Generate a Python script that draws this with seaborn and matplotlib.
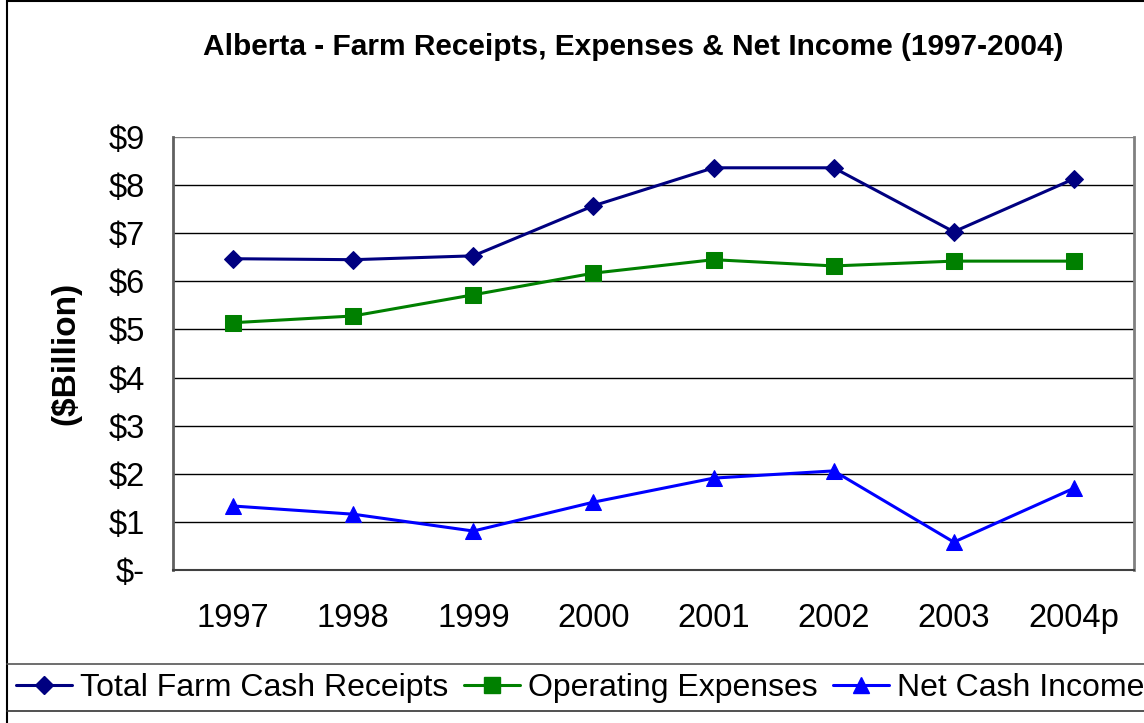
import seaborn as sns
import numpy as np
import pandas as pd
import matplotlib.pyplot as plt
from matplotlib.lines import Line2D

years = ['1997', '1998', '1999', '2000', '2001', '2002', '2003', '2004p']
totalReceipts = [6.47, 6.45, 6.53, 7.57, 8.36, 8.36, 7.03, 8.13]
operatingExpenses = [5.14, 5.28, 5.72, 6.17, 6.45, 6.32, 6.42, 6.42]
netCashIncome = [1.33, 1.16, 0.81, 1.41, 1.91, 2.06, 0.58, 1.70]
seriesNames = ['Total Farm Cash Receipts', 'Operating Expenses', 'Net Cash Income']
yTickLabels = ['$-', '$1', '$2', '$3', '$4', '$5', '$6', '$7', '$8', '$9']

sns.set_style('white')
plt.rcParams['font.family'] = ['Liberation Sans', 'DejaVu Sans']
plt.rcParams['text.color'] = 'black'
plt.rcParams['axes.labelcolor'] = 'black'
plt.rcParams['xtick.color'] = 'black'
plt.rcParams['ytick.color'] = 'black'

df = pd.DataFrame({'year': years * 3,
				   'value': totalReceipts + operatingExpenses + netCashIncome,
				   'series': np.repeat(seriesNames, len(years))})

fig = plt.figure(figsize=(11.44, 7.23), dpi=100)
ax = fig.add_axes([173/1144, 1-570/723, (1134-173)/1144, (570-137)/723])

colors = {'Total Farm Cash Receipts': '#000080', 'Operating Expenses': '#008000', 'Net Cash Income': '#0000FF'}
markers = {'Total Farm Cash Receipts': 'D', 'Operating Expenses': 's', 'Net Cash Income': '^'}
sizes = {'Total Farm Cash Receipts': 9, 'Operating Expenses': 11, 'Net Cash Income': 11}

for name in seriesNames:
	sub = df[df['series'] == name]
	sns.lineplot(data=sub, x='year', y='value', ax=ax, color=colors[name], marker=markers[name],
				 markersize=sizes[name], markeredgecolor=colors[name], linewidth=2.2, sort=False, legend=False)

ax.set_xlim(-0.5, len(years)-0.5)
ax.set_ylim(0, 9)
ax.set_yticks(range(10))
ax.set_yticklabels(yTickLabels, fontsize=23.5)
ax.set_xticks(range(len(years)))
ax.set_xticklabels(years, fontsize=23.5)
ax.set_xticks(np.arange(-0.5, len(years)), minor=True)
ax.tick_params(axis='x', which='major', length=0, pad=24)
ax.tick_params(axis='x', which='minor', length=10, width=1, color='black', direction='out')
ax.tick_params(axis='y', length=10, width=1, color='black', direction='out', pad=10)
for yv in range(1, 10):
	ax.axhline(yv, color='black' if yv < 9 else '#808080', linewidth=1, zorder=0)
ax.set_xlabel('')
ax.set_ylabel('($Billion)', fontsize=24, fontweight='bold', labelpad=20)
ax.spines['top'].set_visible(False)
ax.spines['right'].set_color('#808080')
ax.spines['right'].set_linewidth(2)
ax.spines['left'].set_color('#606060')
ax.spines['left'].set_linewidth(2)
ax.spines['bottom'].set_color('#404040')
ax.spines['bottom'].set_linewidth(1.5)

fig.text(633/1144, 1-47/723, 'Alberta - Farm Receipts, Expenses & Net Income (1997-2004)',
		 fontsize=21.5, fontweight='bold', ha='center', va='center')

# outer frame and legend box
fig.add_artist(Line2D([7/1144, 7/1144], [0, 1], color='black', linewidth=1.5, transform=fig.transFigure))
fig.add_artist(Line2D([7/1144, 1], [1-1/723, 1-1/723], color='black', linewidth=1.5, transform=fig.transFigure))
fig.add_artist(Line2D([7/1144, 1], [1-664/723, 1-664/723], color='#555555', linewidth=1.2, transform=fig.transFigure))
fig.add_artist(Line2D([7/1144, 1], [1-711/723, 1-711/723], color='#333333', linewidth=1.2, transform=fig.transFigure))

handles = [Line2D([], [], color=colors[n], marker=markers[n], markersize=sizes[n], linewidth=2.2) for n in seriesNames]
fig.legend(handles, seriesNames, loc='center left', bbox_to_anchor=(3/1144, 1-688/723), ncol=3, frameon=False,
		   fontsize=23, handlelength=1.75, handletextpad=0.25, columnspacing=0.5, borderaxespad=0)

plt.savefig('out.png', dpi=100)
